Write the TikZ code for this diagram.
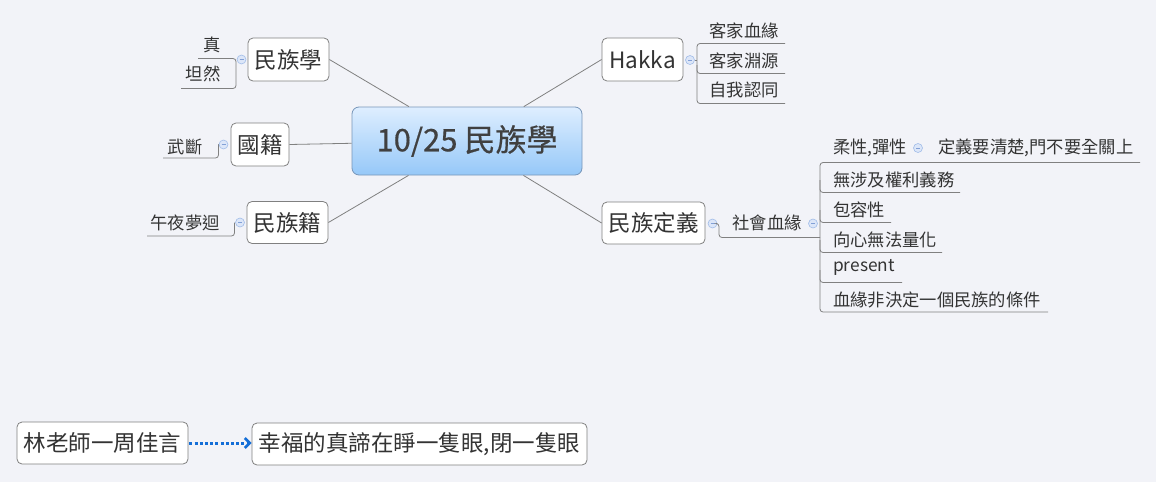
\documentclass[tikz,border=0pt]{standalone}
\usepackage{fontspec}
\setmainfont{Noto Sans CJK TC}
\newfontfamily\rootfont[FakeBold=0.5]{Noto Sans CJK TC}
\usetikzlibrary{arrows.meta}
\definecolor{bg}{RGB}{242,243,248}
\definecolor{linegray}{RGB}{128,128,128}
\definecolor{txt}{RGB}{51,51,51}
\definecolor{roottxt}{RGB}{64,64,64}
\definecolor{ctop}{RGB}{222,238,255}
\definecolor{cbot}{RGB}{150,200,248}
\definecolor{cborder}{RGB}{120,150,185}
\definecolor{colfill}{RGB}{220,230,248}
\definecolor{colborder}{RGB}{160,188,232}
\definecolor{colminus}{RGB}{130,160,215}
\definecolor{arrowblue}{RGB}{20,110,215}
\tikzset{
 topic/.style={draw=linegray, fill=white, rounded corners=5pt, line width=0.8pt, inner sep=0pt, text=txt, font=\fontsize{22.5}{25}\selectfont},
 central/.style={draw=cborder, top color=ctop, bottom color=cbot, rounded corners=7pt, line width=0.8pt, inner sep=0pt, minimum width=230, minimum height=68, text=roottxt, font=\rootfont\fontsize{31}{33}\selectfont},
 leaf/.style={inner sep=0pt, text=txt, font=\fontsize{17.3}{19}\selectfont},
 conn/.style={draw=linegray, line width=0.8pt},
 ul/.style={draw=linegray, line width=0.8pt, rounded corners=3pt},
 collapse/.style={circle, draw=colborder, fill=colfill, minimum size=9pt, inner sep=0pt, line width=0.6pt,
   path picture={\draw[colminus, line width=0.7pt] ([xshift=-2pt]path picture bounding box.center) -- ([xshift=2pt]path picture bounding box.center);}},
 quote/.style={draw=arrowblue, line width=3pt, dash pattern=on 3pt off 2.2pt},
}
\begin{document}
\begin{tikzpicture}[x=1pt,y=-1pt]
\path[use as bounding box, fill=bg] (0,0) rectangle (1156,482);

% central
\node[central] (root) at (467,141) {10/25 民族學};

% main topics
\node[topic, minimum width=81, minimum height=43] (mzx) at (288.5,59.5) {民族學};
\node[topic, minimum width=58, minimum height=43] (gj) at (260,144.5) {國籍};
\node[topic, minimum width=81, minimum height=42] (mzj) at (287.5,222.5) {民族籍};
\node[topic, minimum width=81, minimum height=43] (hakka) at (642.5,59.5) {Hakka};
\node[topic, minimum width=103, minimum height=42] (mzdy) at (653.5,223) {民族定義};

\draw[conn] (root) -- (mzx.east);
\draw[conn] (root) -- (gj.east);
\draw[conn] (root) -- (mzj.east);
\draw[conn] (root) -- (hakka.west);
\draw[conn] (root) -- (mzdy.west);

% 民族學 subtree
\node[leaf] (zhen) at (212,45) {真};
\node[leaf] (tanran) at (203,74) {坦然};
\draw[ul] (198,58.5) -- (236,58.5) -- (236,88.5) -- (181,88.5);
\node[collapse] (c1) at (241.5,59.5) {};

% 國籍 subtree
\node[leaf] (wuduan) at (185,146.5) {武斷};
\draw[ul] (218.5,144) -- (218.5,158) -- (163,158);
\node[collapse] (c2) at (223.5,144.5) {};

% 民族籍 subtree
\node[leaf] (wuye) at (185,222.5) {午夜夢迴};
\draw[ul] (234.5,222.5) -- (234.5,236) -- (147,236);
\node[collapse] (c3) at (240,222.5) {};

% Hakka subtree
\node[collapse] (c4) at (690,60) {};
\node[leaf] (h1) at (744,30.5) {客家血緣};
\node[leaf] (h2) at (744,60.5) {客家淵源};
\node[leaf] (h3) at (744,90) {自我認同};
\draw[ul] (785,43.5) -- (697,43.5) -- (697,103.5) -- (785,103.5);
\draw[ul] (697,65) -- (697,73.5) -- (785,73.5);
\draw[conn] (c4.east) -- (697,60);

% 民族定義 subtree
\node[collapse] (c5) at (712.5,223.5) {};
\node[leaf] (shxy) at (767,223) {社會血緣};
\draw[ul] (c5.east) -- (719,223.5) -- (719,237.5) -- (820,237.5);
\node[collapse] (c6) at (813,223.5) {};

\node[leaf, anchor=west] (r1) at (833,148) {柔性,彈性};
\node[collapse] (c7) at (918,148) {};
\node[leaf, anchor=west] (r1a) at (938,148) {定義要清楚,門不要全關上};
\node[leaf, anchor=west] (r2) at (833,180) {無涉及權利義務};
\node[leaf, anchor=west] (r3) at (833,210) {包容性};
\node[leaf, anchor=west] (r4) at (833,239.5) {向心無法量化};
\node[leaf, anchor=west] (r5) at (833,267.5) {present};
\node[leaf, anchor=west] (r6) at (833,300) {血緣非決定一個民族的條件};

\draw[ul] (1140,162.5) -- (820,162.5) -- (820,312) -- (1048,312);
\draw[ul] (820,180) -- (820,192.5) -- (960,192.5);
\draw[ul] (820,210) -- (820,222.5) -- (891,222.5);
\draw[ul] (820,240) -- (820,252.5) -- (942,252.5);
\draw[ul] (820,270) -- (820,282.5) -- (902,282.5);

% bottom floating topics
\node[topic, minimum width=171, minimum height=42] (lin) at (102.5,443) {林老師一周佳言};
\node[topic, minimum width=335, minimum height=42] (xf) at (419.5,444) {幸福的真諦在睜一隻眼,閉一隻眼};
\draw[quote, -{Straight Barb[length=5pt,width=10pt,line width=2.6pt]}] ([xshift=1pt]lin.east) -- (xf.west |- lin.east);
\end{tikzpicture}
\end{document}
